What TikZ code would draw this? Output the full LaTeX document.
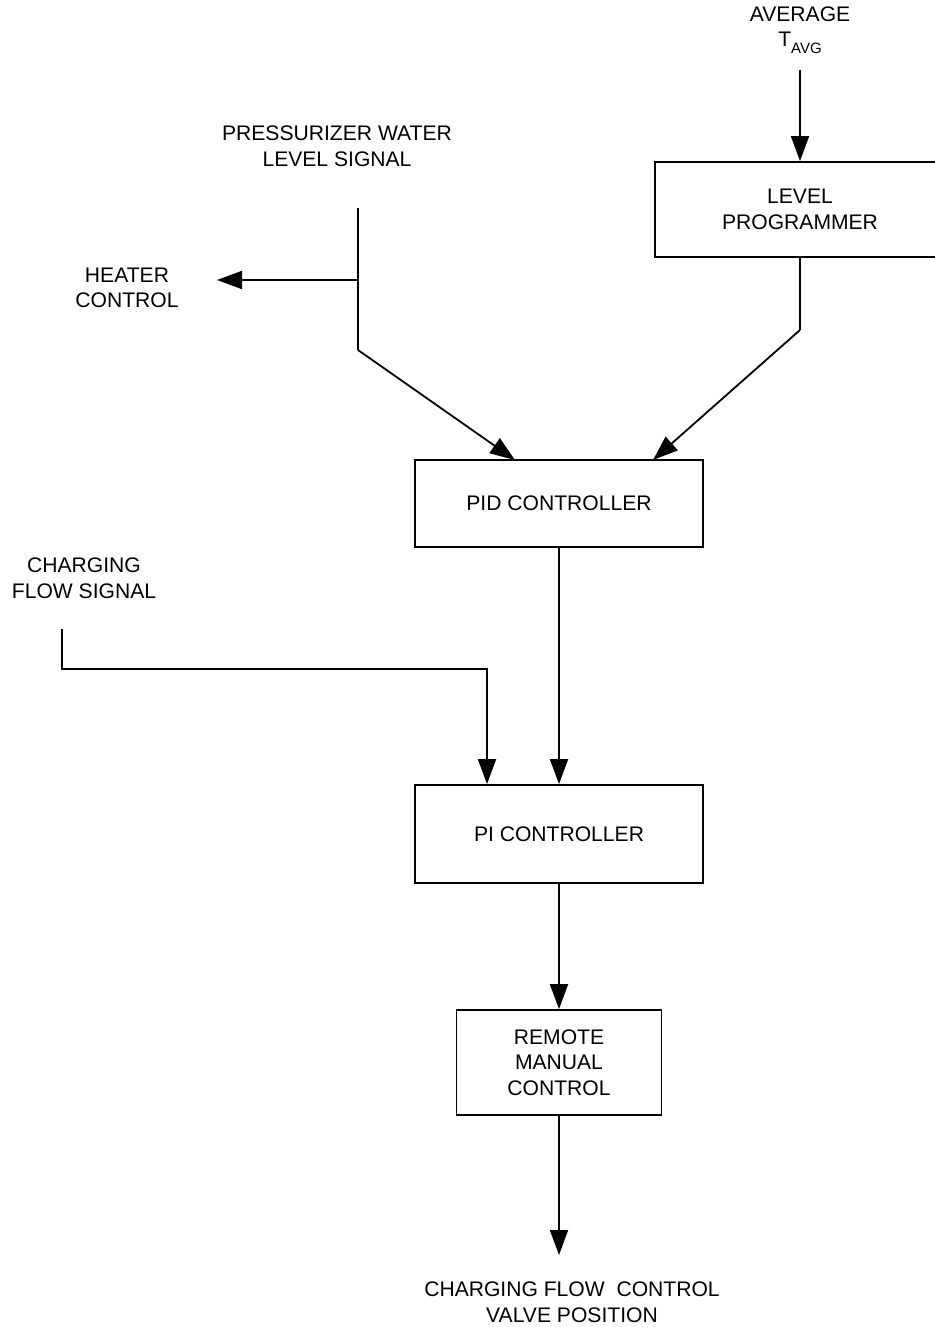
\documentclass[tikz,border=0pt]{standalone}
\usepackage{fontspec}
\setmainfont{Liberation Sans}
\usetikzlibrary{arrows.meta,calc}
\begin{document}
\begin{tikzpicture}[x=0.5pt,y=-0.5pt,
  every node/.style={font=\fontsize{10.55}{12.75}\selectfont, align=center, inner sep=0pt},
  box/.style={draw, line width=0.9pt},
  line/.style={line width=0.9pt},
  arr/.style={line width=0.9pt, -{Triangle[length=12.5pt,width=9pt]}},
  lbl/.style={}]
\useasboundingbox (0,0) rectangle (935,1327);
% boxes
\node[box, minimum width=145pt, minimum height=47.5pt] (lp) at (800,209.5) {LEVEL\\PROGRAMMER};
\node[box, minimum width=144pt, minimum height=43.5pt] (pid) at (559,503.5) {PID CONTROLLER};
\node[box, minimum width=144pt, minimum height=49pt] (pi) at (559,834) {PI CONTROLLER};
\node[box, minimum width=102.5pt, minimum height=52.5pt] (rm) at (559,1062.5) {REMOTE\\MANUAL\\CONTROL};
% labels
\node[lbl] (avg) at (800,30) {AVERAGE\\T\raisebox{-0.55ex}{\fontsize{7.5}{8}\selectfont AVG}};
\node[lbl] (pz) at (337,146) {PRESSURIZER WATER\\LEVEL SIGNAL};
\node[lbl] (hc) at (127,288) {HEATER\\CONTROL};
\node[lbl] (cf) at (84,578) {CHARGING\\FLOW SIGNAL};
\node[lbl] (out) at (572,1302) {CHARGING FLOW\ \ CONTROL\\VALVE POSITION};
% coordinates
\coordinate (tin) at (800,70);
\coordinate (lpk) at (800,330);
\coordinate (pz1) at (358,208);
\coordinate (pzb) at (358,280);
\coordinate (pz2) at (358,350);
\coordinate (hcin) at (217,280);
\coordinate (pidL) at (515,460);
\coordinate (pidR) at (653,460);
\coordinate (cf1) at (62,629);
\coordinate (cf2) at (62,669);
\coordinate (cf3) at (487,669);
\coordinate (outin) at (559,1255);
% connectors
\draw[arr] (tin) -- (tin |- lp.north);
\draw[line] (lp.south) -- (lpk);
\draw[arr] (lpk) -- (pidR);
\draw[line] (pz1) -- (pz2);
\draw[arr] (pzb) -- (hcin);
\draw[arr] (pz2) -- (pidL);
\draw[arr] (pid.south) -- (pi.north);
\draw[arr] (cf1) -- (cf2) -- (cf3) -- (cf3 |- pi.north);
\draw[arr] (pi.south) -- (rm.north);
\draw[arr] (rm.south) -- (outin);
\end{tikzpicture}
\end{document}
